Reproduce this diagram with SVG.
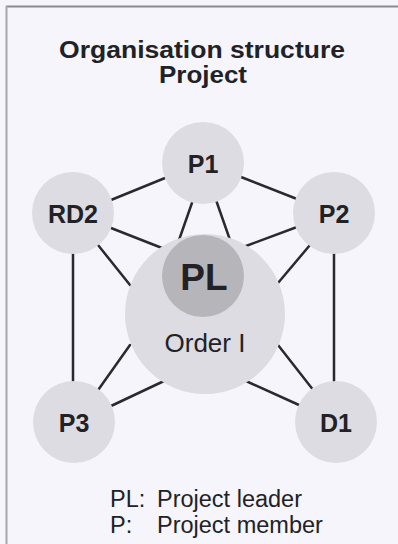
<svg xmlns="http://www.w3.org/2000/svg" width="398" height="544" viewBox="0 0 398 544">
<style>
.bg{fill:#f5f5fb}
.n{fill:#dcdce2}
.pl{fill:#b5b5ba}
.t{font-family:"Liberation Sans",Arial,sans-serif;fill:#222226;text-anchor:middle}
.b{font-weight:bold}
.c line{stroke:#2a2a2e;stroke-width:2.5;stroke-linecap:round}
.leg{font-family:"Liberation Sans",Arial,sans-serif;fill:#222226;font-size:23.5px}
</style>
<rect class="bg" x="0" y="0" width="398" height="544"/>
<line x1="6" y1="6.5" x2="398" y2="6.5" stroke="#8a8a90" stroke-width="2"/>
<line x1="6.5" y1="6" x2="6.5" y2="544" stroke="#a8a8b0" stroke-width="2"/>
<g id="title">
<text class="t b" x="202" y="58" font-size="23" textLength="286" lengthAdjust="spacingAndGlyphs">Organisation structure</text>
<text class="t b" x="203" y="83" font-size="23" textLength="88" lengthAdjust="spacingAndGlyphs">Project</text>
</g>
<g class="c" id="connectors">
<line x1="111" y1="200" x2="165" y2="178"/>
<line x1="241" y1="177" x2="297" y2="199"/>
<line x1="193" y1="200" x2="179" y2="240"/>
<line x1="216" y1="200" x2="230" y2="240"/>
<line x1="111" y1="228" x2="162" y2="248"/>
<line x1="98" y1="245" x2="130" y2="285"/>
<line x1="297" y1="227" x2="246" y2="246"/>
<line x1="310" y1="245" x2="278" y2="283"/>
<line x1="73" y1="252" x2="73" y2="384"/>
<line x1="334" y1="252" x2="334" y2="384"/>
<line x1="96" y1="393" x2="130" y2="345"/>
<line x1="111" y1="406" x2="164" y2="381"/>
<line x1="278" y1="345" x2="314" y2="391"/>
<line x1="246" y1="381" x2="299" y2="405"/>
</g>
<g id="P1"><circle class="n" cx="203" cy="163" r="41"/><text class="t b" x="203" y="173" font-size="25">P1</text></g>
<g id="RD2"><circle class="n" cx="73" cy="213" r="41"/><text class="t b" x="73" y="223" font-size="25">RD2</text></g>
<g id="P2"><circle class="n" cx="334" cy="213" r="41"/><text class="t b" x="334" y="223" font-size="25">P2</text></g>
<g id="OrderI"><circle class="n" cx="205" cy="314" r="80"/><text class="t" x="205" y="352" font-size="26">Order I</text></g>
<g id="PL"><circle class="pl" cx="203" cy="276" r="41"/><text class="t b" x="204" y="290" font-size="37">PL</text></g>
<g id="P3"><circle class="n" cx="74" cy="422" r="41"/><text class="t b" x="74" y="432" font-size="25">P3</text></g>
<g id="D1"><circle class="n" cx="336" cy="422" r="41"/><text class="t b" x="336" y="432" font-size="25">D1</text></g>
<g id="legend">
<text class="leg" x="110" y="507">PL:</text><text class="leg" x="157" y="507">Project leader</text>
<text class="leg" x="110" y="533">P:</text><text class="leg" x="157" y="533">Project member</text>
</g>
</svg>
